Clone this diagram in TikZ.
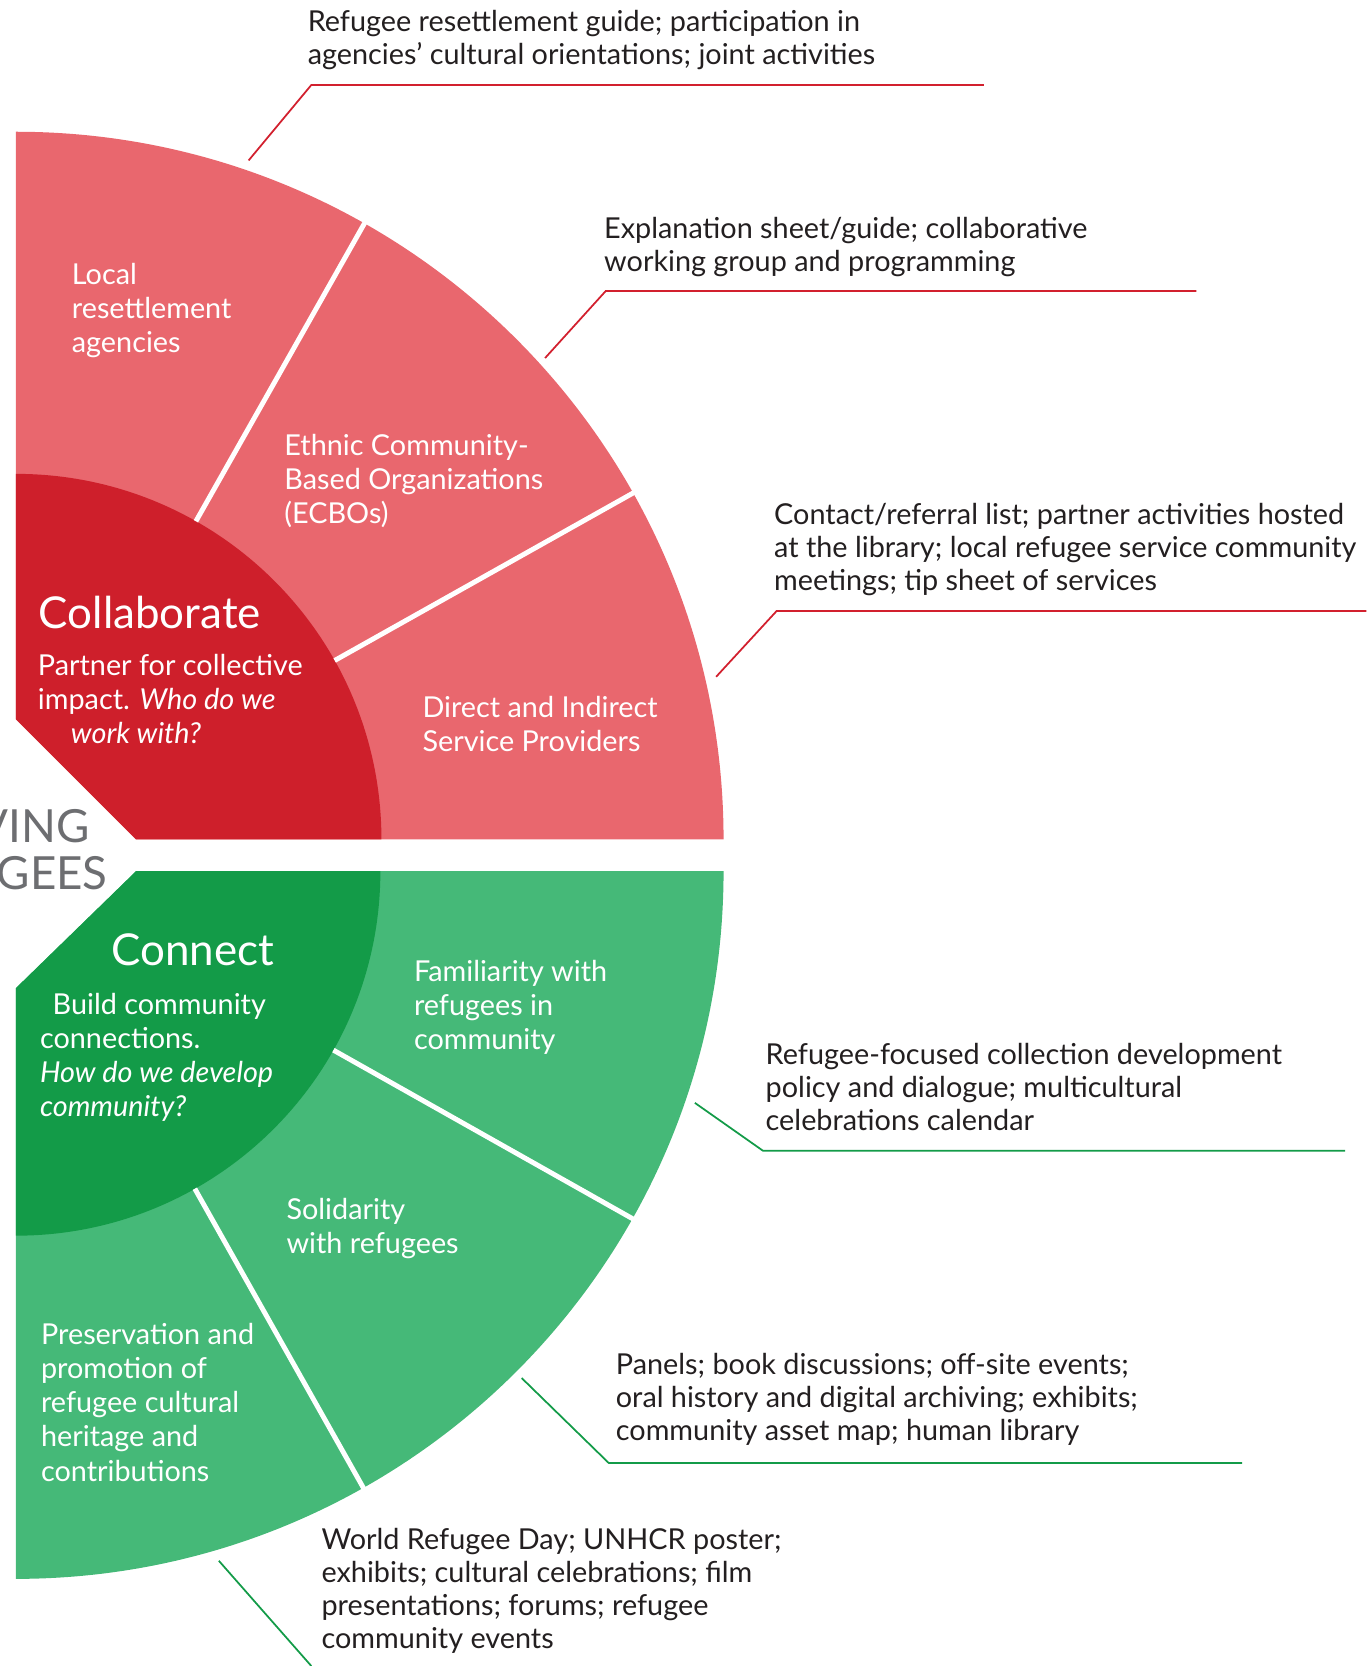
\documentclass[tikz,border=0pt]{standalone}
\usepackage{fontspec}
\setmainfont{Lato}
\usetikzlibrary{positioning}
\definecolor{redlight}{RGB}{233,103,110}
\definecolor{reddark}{RGB}{206,31,43}
\definecolor{greenlight}{RGB}{69,185,120}
\definecolor{greendark}{RGB}{19,155,72}
\definecolor{rulered}{RGB}{210,32,46}
\definecolor{greytext}{RGB}{109,110,113}
\definecolor{bodytext}{RGB}{35,31,32}

\begin{document}
\begin{tikzpicture}[x=0.10628mm, y=0.10628mm,
    sector/.style={text=white, anchor=north west, inner sep=0, align=left, font=\fontsize{8.2}{9.7}\selectfont},
    heading/.style={text=white, anchor=north west, inner sep=0, font=\fontsize{12.5}{14}\selectfont},
    note/.style={text=bodytext, anchor=north west, inner sep=0, align=left, font=\fontsize{8.2}{9.4}\selectfont},
    side/.style={text=greytext, anchor=east, inner sep=0, font=\fontsize{13}{14}\selectfont},
    divider/.style={white, line width=1.4pt},
    redrule/.style={rulered, line width=0.5pt},
    greenrule/.style={greendark, line width=0.5pt}]
\useasboundingbox (0,0) rectangle (1290,1568);

\coordinate (rc) at (15,778);
\fill[redlight] (128,778) -- (681,778) arc[start angle=0, end angle=90, radius=666] -- (15,891) -- cycle;
\fill[reddark] (128,778) -- (359,778) arc[start angle=0, end angle=90, radius=344] -- (15,891) -- cycle;
\draw[divider] ([shift={(29.3:344)}]rc) -- ([shift={(29.3:668)}]rc);
\draw[divider] ([shift={(60.5:344)}]rc) -- ([shift={(60.5:668)}]rc);

\coordinate (gc) at (15,748);
\fill[greenlight] (128,748) -- (681,748) arc[start angle=0, end angle=-90, radius=666] -- (15,638) -- cycle;
\fill[greendark] (128,748) -- (358,748) arc[start angle=0, end angle=-90, radius=343] -- (15,638) -- cycle;
\draw[divider] ([shift={(-29.4:343)}]gc) -- ([shift={(-29.4:668)}]gc);
\draw[divider] ([shift={(-60.6:343)}]gc) -- ([shift={(-60.6:668)}]gc);

\begin{scope}
\clip (0,0) rectangle (1290,1568);
\node[side] (serving) at (85,790) {VING};
\node[side] (refugees) at (102,746) {GEES};
\end{scope}

\node[sector] (agencies) at (67,1321) {Local\\resettlement\\agencies};
\node[sector] (ecbo) at (267,1160) {Ethnic Community-\\Based Organizations\\(ECBOs)};
\node[sector] (providers) at (397,913) {Direct and Indirect\\Service Providers};
\node[heading] (collaborate) at (36,1008) {Collaborate};
\node[sector] (partner) at (35,953) {Partner for collective\\impact. \textit{Who do we}\\\hspace*{9.4pt}\textit{work with?}};

\node[heading] (connect) at (104,690) {Connect};
\node[sector] (build) at (37,634) {\hspace*{3.6pt}Build community\\connections.\\\textit{How do we develop}\\\textit{community?}};
\node[sector] (familiarity) at (389,665) {Familiarity with\\refugees in\\community};
\node[sector] (solidarity) at (269,441) {Solidarity\\with refugees};
\node[sector] (heritage) at (38,323) {Preservation and\\promotion of\\refugee cultural\\heritage and\\contributions};

\node[note] (guide) at (289,1559) {Refugee resettlement guide; participation in\\agencies’ cultural orientations; joint activities};
\coordinate (guide1) at (234,1417);
\coordinate (guide2) at (293,1488);
\coordinate (guide3) at (926,1488);
\draw[redrule] (guide1) -- (guide2) -- (guide3);

\node[note] (sheet) at (568,1364) {Explanation sheet/guide; collaborative\\working group and programming};
\coordinate (sheet1) at (513,1231);
\coordinate (sheet2) at (570,1294);
\coordinate (sheet3) at (1126,1294);
\draw[redrule] (sheet1) -- (sheet2) -- (sheet3);

\node[note] (contact) at (728,1095) {Contact/referral list; partner activities hosted\\at the library; local refugee service community\\meetings; tip sheet of services};
\coordinate (contact1) at (674,931);
\coordinate (contact2) at (731,993);
\coordinate (contact3) at (1286,993);
\draw[redrule] (contact1) -- (contact2) -- (contact3);

\node[note] (policy) at (720,587) {Refugee-focused collection development\\policy and dialogue; multicultural\\celebrations calendar};
\coordinate (policy1) at (654,530);
\coordinate (policy2) at (718,485);
\coordinate (policy3) at (1266,485);
\draw[greenrule] (policy1) -- (policy2) -- (policy3);

\node[note] (panels) at (579,295) {Panels; book discussions; off-site events;\\oral history and digital archiving; exhibits;\\community asset map; human library};
\coordinate (panels1) at (491,271);
\coordinate (panels2) at (573,191);
\coordinate (panels3) at (1169,191);
\draw[greenrule] (panels1) -- (panels2) -- (panels3);

\node[note] (events) at (302,130) {World Refugee Day; UNHCR poster;\\exhibits; cultural celebrations; film\\presentations; forums; refugee\\community events};
\coordinate (events1) at (206,99);
\coordinate (events2) at (293,0);
\draw[greenrule] (events1) -- (events2);

\end{tikzpicture}
\end{document}
